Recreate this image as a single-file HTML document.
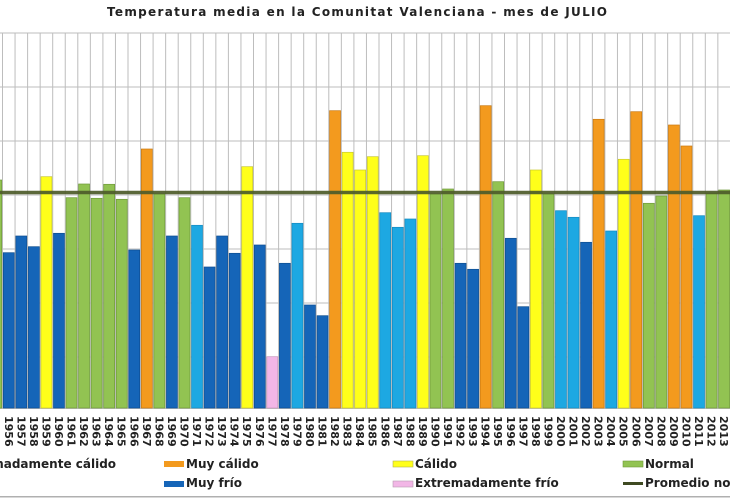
<!DOCTYPE html>
<html><head><meta charset="utf-8"><style>
html,body{margin:0;padding:0;background:#fff;}
svg{display:block;}
text{font-family:"DejaVu Sans","Liberation Sans",sans-serif;font-weight:bold;fill:#222;}
</style></head><body>
<svg width="730" height="500" viewBox="0 0 730 500" xmlns="http://www.w3.org/2000/svg">
<rect width="730" height="500" fill="#fff"/>
<text x="107" y="16" font-size="12" textLength="500" lengthAdjust="spacing">Temperatura  media  en la Comunitat  Valenciana  - mes de JULIO</text>
<g id="grid" stroke="#bdbdbd" stroke-width="1"></g>
<g id="bars"></g>
<line x1="0" y1="192.5" x2="730" y2="192.5" stroke="#4e5c2a" stroke-width="3.5" opacity="0.92"/>
<g id="labels" font-size="11"></g>
<g font-size="12">
<rect x="-67" y="461" width="20" height="6" fill="#c0392b"/>
<text x="-44.5" y="468">Extremadamente cálido</text>
<rect x="164" y="461" width="20" height="6" fill="#f39a1e"/>
<text x="186" y="468">Muy cálido</text>
<rect x="393" y="461" width="20" height="6" fill="#ffff1a" stroke="#b5b54a" stroke-width="0.6"/>
<text x="415" y="468">Cálido</text>
<rect x="623" y="461" width="20" height="6" fill="#92c352" stroke="#6f9a3a" stroke-width="0.6"/>
<text x="645" y="468">Normal</text>
<rect x="164" y="481" width="20" height="6" fill="#1565b8"/>
<text x="186" y="487">Muy frío</text>
<rect x="393" y="481" width="20" height="6" fill="#f2b6e6" stroke="#b79ab0" stroke-width="0.6"/>
<text x="415" y="487">Extremadamente frío</text>
<rect x="623" y="482" width="20" height="3" fill="#3f4a22"/>
<text x="645" y="487">Promedio normal</text>
</g>
<rect x="0" y="496" width="730" height="1.5" fill="#b0b0b0"/>
<script>
(function(){
var NS="http://www.w3.org/2000/svg";
var C={o:"#f39a1e",y:"#ffff1a",g:"#92c352",d:"#1565b8",l:"#1da8e2",p:"#f2b6e6"};
var S={o:"#c97a12",y:"#c8c830",g:"#6f9a3a",d:"#0f4e90",l:"#168ac0",p:"#c896bd"};
var data=[
[1955,180,"g"],[1956,252.7,"d"],[1957,236,"d"],[1958,246.7,"d"],[1959,176.7,"y"],[1960,233.3,"d"],
[1961,197.7,"g"],[1962,184,"g"],[1963,198.3,"g"],[1964,184.3,"g"],[1965,199.3,"g"],[1966,250,"d"],
[1967,149,"o"],[1968,194,"g"],[1969,236,"d"],[1970,197.7,"g"],[1971,225.3,"l"],[1972,267,"d"],
[1973,236,"d"],[1974,253.3,"d"],[1975,166.7,"y"],[1976,245,"d"],[1977,356.7,"p"],[1978,263.3,"d"],
[1979,223.3,"l"],[1980,305,"d"],[1981,315.7,"d"],[1982,110.7,"o"],[1983,152.3,"y"],[1984,170,"y"],
[1985,156.7,"y"],[1986,212.7,"l"],[1987,227.3,"l"],[1988,219,"l"],[1989,155.7,"y"],[1990,194,"g"],
[1991,189,"g"],[1992,263.3,"d"],[1993,269.3,"d"],[1994,105.7,"o"],[1995,181.7,"g"],[1996,238.3,"d"],
[1997,306.7,"d"],[1998,170,"y"],[1999,194,"g"],[2000,210.7,"l"],[2001,217.3,"l"],[2002,242.3,"d"],
[2003,119.3,"o"],[2004,231,"l"],[2005,159.3,"y"],[2006,111.7,"o"],[2007,203.3,"g"],[2008,196,"g"],
[2009,125,"o"],[2010,146,"o"],[2011,215.7,"l"],[2012,193,"g"],[2013,190,"g"]];
var W=12.55,X0=2.5,BASE=408;
var grid=document.getElementById("grid");
function ln(x1,y1,x2,y2){var l=document.createElementNS(NS,"line");l.setAttribute("x1",x1);l.setAttribute("y1",y1);l.setAttribute("x2",x2);l.setAttribute("y2",y2);grid.appendChild(l);}
[33,87,141,195,249,303,357].forEach(function(y){ln(0,y,730,y);});
ln(0,408.5,730,408.5);
for(var i=-1;i<=58;i++){var x=X0+i*W;if(x>=0&&x<=730)ln(x,33,x,409);}
var bars=document.getElementById("bars"),labels=document.getElementById("labels");
data.forEach(function(d){
 var i=d[0]-1956,x=X0+i*W+0.8,w=W-1.6;
 var r=document.createElementNS(NS,"rect");
 r.setAttribute("x",x);r.setAttribute("y",d[1]);r.setAttribute("width",w);r.setAttribute("height",BASE-d[1]);
 r.setAttribute("fill",C[d[2]]);r.setAttribute("stroke",S[d[2]]);r.setAttribute("stroke-width","0.7");
 bars.appendChild(r);
 if(d[0]>=1956){
  var cx=X0+i*W+W/2;
  var t=document.createElementNS(NS,"text");
  t.setAttribute("transform","translate("+(cx-4)+",416) rotate(90)");
  t.textContent=String(d[0]);
  labels.appendChild(t);
 }
});
})();
</script>
</svg>
</body></html>
